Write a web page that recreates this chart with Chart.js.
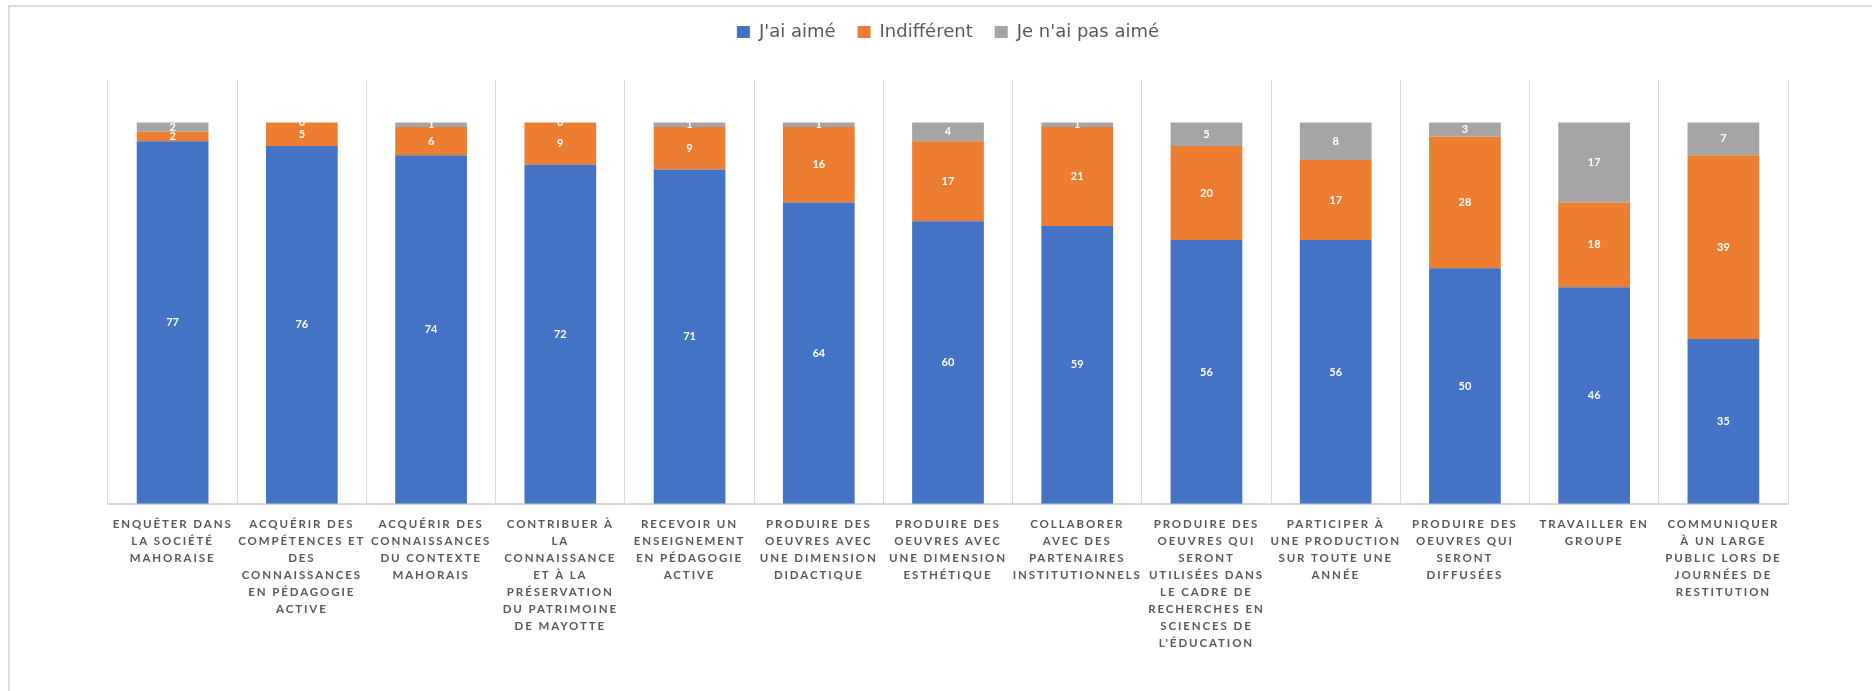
<!DOCTYPE html>
<html lang="fr">
<head>
<meta charset="utf-8">
<title>Appréciation des activités</title>
<script src="https://cdn.jsdelivr.net/npm/chart.js@4.4.1/dist/chart.umd.min.js"></script>
<style>
  html, body { margin: 0; padding: 0; background: #fff; }
  #cadre {
    position: absolute; left: 8px; top: 5px; right: 0; bottom: 0;
    border-top: 2px solid #dcdcdc; border-left: 2px solid #dcdcdc;
  }
  #zone { position: absolute; left: 0; top: 0; width: 1872px; height: 691px; }
</style>
</head>
<body>
<div id="cadre"></div>
<div id="zone"><canvas id="graphique"></canvas></div>
<script>
// Catégories (libellés coupés comme dans le graphique d'origine)
const categories = [
  ['ENQUÊTER DANS', 'LA SOCIÉTÉ', 'MAHORAISE'],
  ['ACQUÉRIR DES', 'COMPÉTENCES ET', 'DES', 'CONNAISSANCES', 'EN PÉDAGOGIE', 'ACTIVE'],
  ['ACQUÉRIR DES', 'CONNAISSANCES', 'DU CONTEXTE', 'MAHORAIS'],
  ['CONTRIBUER À', 'LA', 'CONNAISSANCE', 'ET À LA', 'PRÉSERVATION', 'DU PATRIMOINE', 'DE MAYOTTE'],
  ['RECEVOIR UN', 'ENSEIGNEMENT', 'EN PÉDAGOGIE', 'ACTIVE'],
  ['PRODUIRE DES', 'OEUVRES AVEC', 'UNE DIMENSION', 'DIDACTIQUE'],
  ['PRODUIRE DES', 'OEUVRES AVEC', 'UNE DIMENSION', 'ESTHÉTIQUE'],
  ['COLLABORER', 'AVEC DES', 'PARTENAIRES', 'INSTITUTIONNELS'],
  ['PRODUIRE DES', 'OEUVRES QUI', 'SERONT', 'UTILISÉES DANS', 'LE CADRE DE', 'RECHERCHES EN', 'SCIENCES DE', "L'ÉDUCATION"],
  ['PARTICIPER À', 'UNE PRODUCTION', 'SUR TOUTE UNE', 'ANNÉE'],
  ['PRODUIRE DES', 'OEUVRES QUI', 'SERONT', 'DIFFUSÉES'],
  ['TRAVAILLER EN', 'GROUPE'],
  ['COMMUNIQUER', 'À UN LARGE', 'PUBLIC LORS DE', 'JOURNÉES DE', 'RESTITUTION']
];

// Réponses
const aime = [77, 76, 74, 72, 71, 64, 60, 59, 56, 56, 50, 46, 35];
const indifferent = [2, 5, 6, 9, 9, 16, 17, 21, 20, 17, 28, 18, 39];
const pasAime = [2, 0, 1, 0, 1, 1, 4, 1, 5, 8, 3, 17, 7];

const series = ["J'ai aimé", 'Indifférent', "Je n'ai pas aimé"];
const couleurs = ['#4472C4', '#ED7D31', '#A5A5A5'];

// Valeurs en blanc au milieu de chaque segment
const etiquettesValeurs = {
  id: 'etiquettesValeurs',
  afterDatasetsDraw(chart) {
    const ctx = chart.ctx;
    ctx.save();
    ctx.letterSpacing = '0px';
    ctx.font = 'bold 11px Lato';
    ctx.fillStyle = '#ffffff';
    ctx.textAlign = 'center';
    ctx.textBaseline = 'middle';
    chart.data.datasets.forEach((ds, i) => {
      chart.getDatasetMeta(i).data.forEach((barre, j) => {
        const { x, y, base } = barre.getProps(['x', 'y', 'base'], true);
        ctx.fillText(String(ds.data[j]), x, (y + base) / 2);
      });
    });
    ctx.restore();
    // les libellés de l'axe X (z = 1) sont dessinés après : texte espacé
    ctx.letterSpacing = '1.9px';
  },
  afterDraw(chart) {
    chart.ctx.letterSpacing = '0px';
  }
};

new Chart(document.getElementById('graphique'), {
  type: 'bar',
  data: {
    labels: categories,
    datasets: [
      { label: series[0], data: aime, backgroundColor: couleurs[0] },
      { label: series[1], data: indifferent, backgroundColor: couleurs[1] },
      { label: series[2], data: pasAime, backgroundColor: couleurs[2] }
    ]
  },
  options: {
    responsive: true,
    maintainAspectRatio: false,
    animation: false,
    devicePixelRatio: 1,
    datasets: {
      bar: { barPercentage: 0.555, categoryPercentage: 1, borderWidth: 0 }
    },
    layout: { padding: { left: 108, right: 84, top: 1, bottom: 27 } },
    plugins: {
      legend: {
        position: 'top',
        labels: {
          boxWidth: 13,
          boxHeight: 12,
          padding: 22,
          color: '#595959',
          font: { family: 'DejaVu Sans', size: 18 }
        }
      },
      // espace vide entre la légende et la zone de tracé
      title: {
        display: true,
        text: '',
        weight: 500,
        font: { size: 1, lineHeight: 1 },
        padding: { top: 0, bottom: 28 }
      },
      tooltip: { enabled: false }
    },
    scales: {
      x: {
        stacked: true,
        grid: { color: '#d9d9d9', lineWidth: 1, drawTicks: false, offset: true },
        border: { color: '#d9d9d9', width: 2 },
        ticks: {
          z: 1,
          autoSkip: false,
          maxRotation: 0,
          minRotation: 0,
          padding: 12,
          color: '#595959',
          font: { family: 'Lato', weight: 'bold', size: 11.5, lineHeight: 1.48 }
        }
      },
      y: {
        stacked: true,
        display: false,
        min: 0,
        max: 90
      }
    }
  },
  plugins: [etiquettesValeurs]
});
</script>
</body>
</html>
